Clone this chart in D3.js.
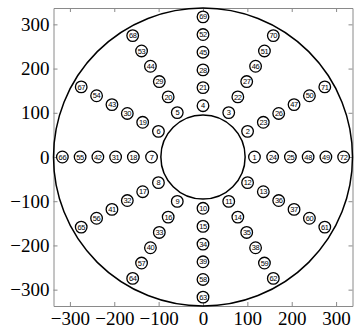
<!DOCTYPE html>
<html>
<head>
<meta charset="utf-8">
<script src="https://cdn.jsdelivr.net/npm/d3@7"></script>
<style>
  body { margin: 0; background: #fff; }
  .tick text { font-family: "Liberation Serif", serif; font-size: 19px; fill: #000; }
</style>
</head>
<body>
<div id="chart"></div>
<script>
// ray directions (degrees) and distances of the numbered points along each ray
const rayAngles = [0, 30, 60, 90, 120, 150, 180, 210, 240, 270, 300, 330];
const ringRadii = [116, 157, 197, 237, 277, 317];
// point labels per ray, inner to outer
const rayLabels = [
    [1, 24, 25, 48, 49, 72],
    [2, 23, 26, 47, 50, 71],
    [3, 22, 27, 46, 51, 70],
    [4, 21, 28, 45, 52, 69],
    [5, 20, 29, 44, 53, 68],
    [6, 19, 30, 43, 54, 67],
    [7, 18, 31, 42, 55, 66],
    [8, 17, 32, 41, 56, 65],
    [9, 16, 33, 40, 57, 64],
    [10, 15, 34, 39, 58, 63],
    [11, 14, 35, 38, 59, 62],
    [12, 13, 36, 37, 60, 61]
];
const outerRadius = 337;
const innerRadius = 95;
const tickValues = [-300, -200, -100, 0, 100, 200, 300];

const width = 356, height = 331;
const margin = { top: 8, right: 3.5, bottom: 25, left: 53.5 };

const svg = d3.select("#chart")
    .append("svg")
    .attr("width", width)
    .attr("height", height);

const x = d3.scaleLinear()
    .domain([-outerRadius, outerRadius])
    .range([margin.left, width - margin.right]);

const y = d3.scaleLinear()
    .domain([-outerRadius, outerRadius])
    .range([height - margin.bottom, margin.top]);

// flatten into points
const points = [];
rayAngles.forEach((a, i) => {
    ringRadii.forEach((r, j) => {
        const t = a * Math.PI / 180;
        points.push({ px: r * Math.cos(t), py: r * Math.sin(t), label: rayLabels[i][j] });
    });
});

// frame axes, ticks pointing inward
const frameColor = "#8a8a8a";
function styleAxis(g) {
    g.select(".domain").attr("stroke", frameColor);
    g.selectAll(".tick line").attr("stroke", frameColor);
}
const fmt = d => d < 0 ? "\u2212" + Math.abs(d) : d;

svg.append("g")
    .attr("transform", `translate(0,${y.range()[0]})`)
    .call(d3.axisBottom(x).tickValues(tickValues).tickSizeInner(-4).tickSizeOuter(0).tickPadding(6).tickFormat(fmt))
    .call(styleAxis);

svg.append("g")
    .attr("transform", `translate(${x.range()[0]},0)`)
    .call(d3.axisLeft(y).tickValues(tickValues).tickSizeInner(-4).tickSizeOuter(0).tickPadding(4).tickFormat(fmt))
    .call(styleAxis);

svg.append("g")
    .attr("transform", `translate(0,${y.range()[1]})`)
    .call(d3.axisTop(x).tickValues(tickValues).tickSizeInner(-4).tickSizeOuter(0).tickFormat(""))
    .call(styleAxis);

svg.append("g")
    .attr("transform", `translate(${x.range()[1]},0)`)
    .call(d3.axisRight(y).tickValues(tickValues).tickSizeInner(-4).tickSizeOuter(0).tickFormat(""))
    .call(styleAxis);

// outer and inner boundary circles
[outerRadius, innerRadius].forEach(r => {
    svg.append("ellipse")
        .attr("cx", x(0))
        .attr("cy", y(0))
        .attr("rx", x(r) - x(0))
        .attr("ry", y(0) - y(r))
        .attr("fill", "none")
        .attr("stroke", "#000")
        .attr("stroke-width", 1.5);
});

// numbered markers
const marks = svg.append("g")
    .selectAll("g")
    .data(points)
    .join("g")
    .attr("transform", d => `translate(${x(d.px)},${y(d.py)})`);

marks.append("circle")
    .attr("r", 5.8)
    .attr("fill", "#fff")
    .attr("stroke", "#000")
    .attr("stroke-width", 1.3);

marks.append("text")
    .attr("text-anchor", "middle")
    .attr("dy", "0.35em")
    .style("font-family", "'Liberation Sans', Arial, sans-serif")
    .style("font-size", "7.5px")
    .style("letter-spacing", "-0.4px")
    .text(d => d.label);
</script>
</body>
</html>
